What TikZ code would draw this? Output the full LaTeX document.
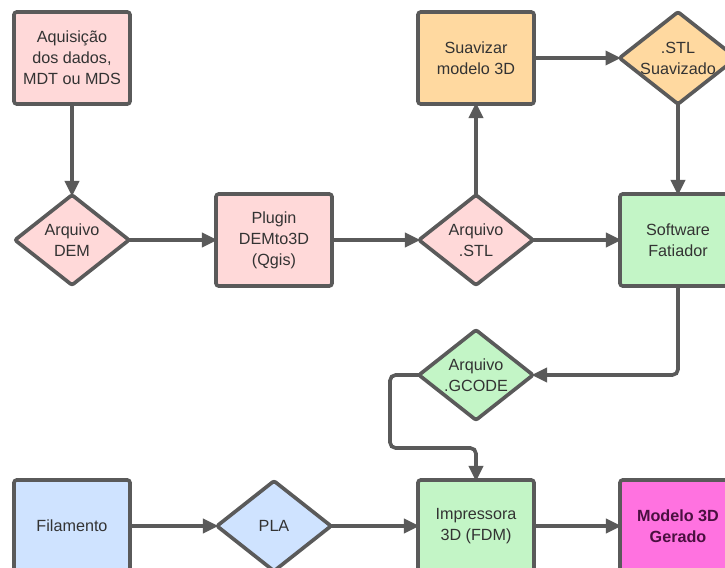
\documentclass[tikz,border=0pt]{standalone}
\usepackage{fontspec}
\setmainfont{Liberation Sans}
\usepackage{xcolor}
\usetikzlibrary{positioning,calc,shapes,arrows.meta}
\definecolor{linegray}{HTML}{5A5A5A}
\definecolor{txtgray}{HTML}{333333}
\definecolor{fpink}{HTML}{FFD9D9}
\definecolor{forange}{HTML}{FFD9A0}
\definecolor{fgreen}{HTML}{C3F5C6}
\definecolor{fblue}{HTML}{CFE3FF}
\definecolor{fmagenta}{HTML}{FF72E0}
\definecolor{txtpurple}{HTML}{4A1040}

\begin{document}
\begin{tikzpicture}[x=0.025cm, y=-0.025cm,
		every node/.style={font=\fontsize{11.5}{15}\selectfont, text=txtgray, align=center},
		box/.style={draw=linegray, line width=2.6pt, rounded corners=2pt, minimum width=2.9cm, minimum height=2.3cm, inner sep=0pt, outer sep=0pt},
		losango/.style={diamond, draw=linegray, line width=2.6pt, rounded corners=1.5pt, aspect=1.27, minimum width=2.85cm, minimum height=2.25cm, inner sep=0pt, outer sep=0pt},
		seta/.style={draw=linegray, line width=2.6pt, shorten >=-1pt, -{Triangle[length=11pt,width=10pt]}}]
		\clip (0,0) rectangle (725,567);
		\fill[white] (0,0) rectangle (725,567);
		\node[box, fill=fpink] (aquis) at (72,58) {Aquisição\\dos dados,\\MDT ou MDS};
		\node[losango, fill=fpink] (dem) at (72,240) {Arquivo\\DEM};
		\node[box, fill=fpink] (plugin) at (274,240) {Plugin\\DEMto3D\\(Qgis)};
		\node[losango, fill=fpink] (stl) at (476,240) {Arquivo\\.STL};
		\node[box, fill=forange] (suav) at (476,58) {Suavizar\\modelo 3D};
		\node[losango, fill=forange] (stlsuav) at (678,58) {.STL\\Suavizado};
		\node[box, fill=fgreen] (fatiador) at (678,240) {Software\\Fatiador};
		\node[losango, fill=fgreen] (gcode) at (476,375) {Arquivo\\.GCODE};
		\node[box, fill=fblue] (filam) at (72,526) {Filamento};
		\node[losango, fill=fblue] (pla) at (274,526) {PLA};
		\node[box, fill=fgreen] (impr) at (476,526) {Impressora\\3D (FDM)};
		\node[box, fill=fmagenta, text=txtpurple, font=\fontsize{11.5}{15}\selectfont\bfseries] (modelo) at (678,526) {Modelo 3D\\Gerado};
		\coordinate (dobra) at (390,448);
		\draw[seta] (aquis) -- (dem);
		\draw[seta] (dem) -- (plugin);
		\draw[seta] (plugin) -- (stl);
		\draw[seta] (stl) -- (suav);
		\draw[seta] (stl) -- (fatiador);
		\draw[seta] (suav) -- (stlsuav);
		\draw[seta] (stlsuav) -- (fatiador);
		\draw[seta, rounded corners=4pt] (fatiador) |- (gcode);
		\draw[seta, rounded corners=4pt] (gcode.west) -| (dobra) -| (impr);
		\draw[seta] (filam) -- (pla);
		\draw[seta] (pla) -- (impr);
		\draw[seta] (impr) -- (modelo);
	\end{tikzpicture}
\end{document}
